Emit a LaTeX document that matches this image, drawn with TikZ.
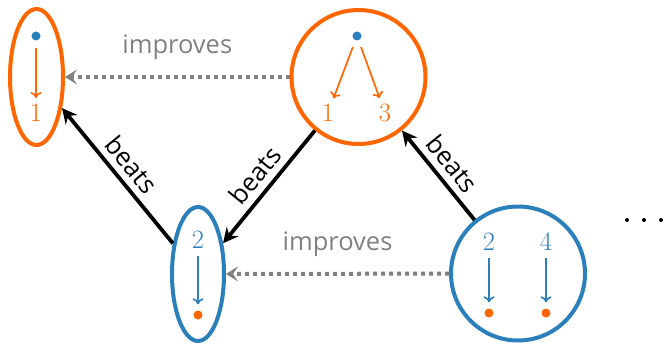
\documentclass[tikz,border=0pt]{standalone}
\usepackage{fontspec}
\setsansfont{Open Sans}
\usetikzlibrary{shapes.geometric,arrows.meta}
\definecolor{myorange}{RGB}{255,102,0}
\definecolor{myblue}{RGB}{43,127,186}
\definecolor{mygray}{RGB}{128,128,128}
\begin{document}
\begin{tikzpicture}[x=1pt,y=-1pt,
  setell/.style={ellipse,draw,line width=4pt,inner sep=0pt},
  setcirc/.style={circle,draw,line width=4pt,inner sep=0pt,minimum size=134pt},
  num/.style={inner sep=0pt,font=\fontsize{26.5}{26.5}\selectfont},
  pt/.style={circle,fill,inner sep=0pt,minimum size=9pt},
  small/.style={line width=1.7pt,-{To[length=6pt,width=11pt]},shorten <=7pt,shorten >=6pt},
  beats/.style={line width=3.8pt,-{Stealth[length=15pt,width=15pt,inset=5pt]}},
  improves/.style={mygray,line width=4pt,dash pattern=on 4pt off 4pt,-{Stealth[length=12pt,width=15pt,inset=5pt]}},
  lbl/.style={font=\sffamily\fontsize{25.5}{25.5}\selectfont}
]
\useasboundingbox (0,0) rectangle (664,345);
% nodes
\node[setell,myorange,minimum width=53pt,minimum height=136pt] (tl) at (36.5,77) {};
\node[setcirc,myorange] (tc) at (358.5,77) {};
\node[setell,myblue,minimum width=52pt,minimum height=134pt] (bm) at (198,274) {};
\node[setcirc,myblue] (br) at (518,273.5) {};
% contents tl
\node[pt,myblue] (tld) at (36,36) {};
\node[num,myorange] (tln) at (36,113) {1};
\draw[small,myorange] (tld) -- (tln);
% contents tc
\node[pt,myblue] (tcd) at (357,36) {};
\node[num,myorange] (tcn1) at (328,113) {1};
\node[num,myorange] (tcn3) at (385,113) {3};
\draw[small,myorange] (tcd) -- (tcn1);
\draw[small,myorange] (tcd) -- (tcn3);
% contents bm
\node[num,myblue] (bmn) at (198,240) {2};
\node[pt,myorange] (bmd) at (198,315) {};
\draw[small,myblue] (bmn) -- (bmd);
% contents br
\node[num,myblue] (brn2) at (489,242) {2};
\node[num,myblue] (brn4) at (546,242) {4};
\node[pt,myorange] (brd2) at (489,313) {};
\node[pt,myorange] (brd4) at (546,313) {};
\draw[small,myblue] (brn2) -- (brd2);
\draw[small,myblue] (brn4) -- (brd4);
% beats
\draw[beats] (bm) -- node[lbl,sloped,above=3pt] {beats} (tl);
\draw[beats] (tc) -- node[lbl,sloped,above=3pt] {beats} (bm);
\draw[beats] (br) -- node[lbl,sloped,above=3pt] {beats} (tc);
% improves
\draw[improves] (tc) -- node[lbl,mygray,above=12pt] {improves} (tl);
\draw[improves] (br) -- node[lbl,mygray,above=12pt] {improves} (bm);
% dots
\node[circle,fill,inner sep=0pt,minimum size=4pt] (e1) at (627,220) {};
\node[circle,fill,inner sep=0pt,minimum size=4pt] (e2) at (644,220) {};
\node[circle,fill,inner sep=0pt,minimum size=4pt] (e3) at (661,220) {};
\end{tikzpicture}
\end{document}
